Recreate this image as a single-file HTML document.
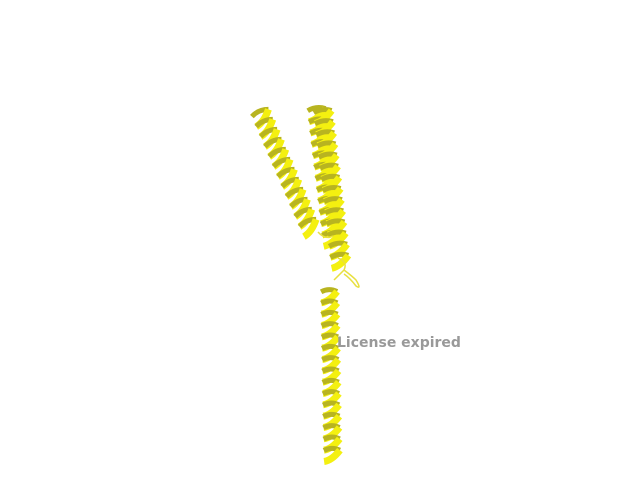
<!DOCTYPE html>
<html><head><meta charset="utf-8"><style>
body{margin:0;background:#fff;width:640px;height:480px;overflow:hidden}
svg{display:block}
</style></head><body>
<svg id="s" width="640" height="480">
<g id="helices"></g>
<path d="M318,232 Q325,240 333,236 M338,258 Q348,262 344,270 Q338,276 334,280 M344,270 Q352,276 356,280 Q362,290 356,286 Q350,278 344,274" stroke="#e8e040" stroke-width="1.5" fill="none"/>
<text x="337" y="347" font-family="DejaVu Sans, sans-serif" font-weight="bold" font-size="14" fill="#999">License expired</text>
</svg>
<script>
const helixList=[[258,108,310,228,18],[316,104,332,240,18],[322,106,340,262,18],[329,286,332,456,16]];
const g=document.getElementById('helices');
const ns='http://www.w3.org/2000/svg';
helixList.forEach(function(h,i){
  const x0=h[0],y0=h[1],x1=h[2],y1=h[3],w=h[4];
  const L=Math.hypot(x1-x0,y1-y0),ux=(x1-x0)/L,uy=(y1-y0)/L,px=-uy,py=ux;
  const n=Math.round(L/11);
  for(let k=0;k<n;k++){
    const t=(k+0.5)/n;
    const cx=x0+(x1-x0)*t,cy=y0+(y1-y0)*t;
    const ax=cx+px*w/2,ay=cy+py*w/2,bx=cx-px*w/2,by=cy-py*w/2;
    const back=document.createElementNS(ns,'path');
    back.setAttribute('d','M'+ax+','+ay+' Q'+(cx-ux*4)+','+(cy-uy*4)+' '+bx+','+(by));
    back.setAttribute('stroke','#b8b420');back.setAttribute('stroke-width','5');back.setAttribute('fill','none');
    
    
    g.appendChild(back);
    const fr=document.createElementNS(ns,'path');
    fr.setAttribute('d','M'+bx+','+by+' Q'+(cx+ux*10)+','+(cy+uy*10)+' '+(ax+ux*11)+','+(ay+uy*11));
    fr.setAttribute('stroke','#f4f010');fr.setAttribute('stroke-width','7');fr.setAttribute('fill','none');
    
    
    g.appendChild(fr);
  }
});
</script>
</body></html>
